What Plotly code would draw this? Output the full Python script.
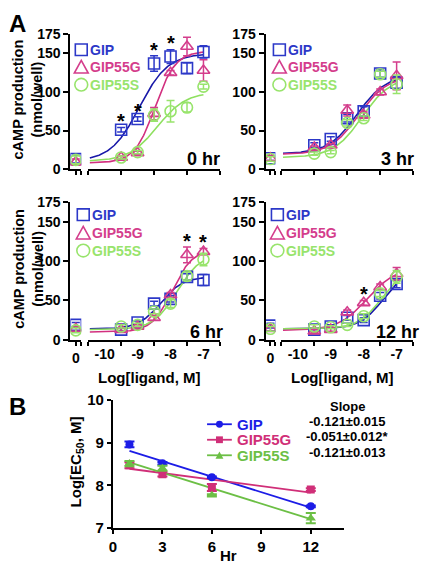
import numpy as np
import plotly.graph_objects as go

W, H = 423, 570
FONT = "Arial, Liberation Sans, sans-serif"

# ---------------- data: panel A (cAMP, nmol/well) ----------------
doses = [-9.5, -9.0, -8.5, -8.0, -7.5, -7.0]          # log[ligand, M]
series_names = ["GIP", "GIP55G", "GIP55S"]
panel_titles = ["0 hr", "3 hr", "6 hr", "12 hr"]
x_tick_vals = [-10, -9, -8, -7]
x_tick_text = ["-10", "-9", "-8", "-7"]
y_tick_vals = [0, 50, 100, 150, 175]

# first value of each list = no-ligand control ("0"), then the six doses
gip_0h = [13, 51, 65, 137, 146, 131, 152]
gip_0h_err = [5, 3, 3, 10, 9, 7, 8]
g55g_0h = [9, 15, 21, 72, 125, 159, 128]
g55g_0h_err = [4, 2, 2, 8, 3, 12, 14]
g55s_0h = [12, 15, 22, 70, 75, 80, 107]
g55s_0h_err = [5, 2, 2, 8, 14, 6, 3]

gip_3h = [14, 31, 39, 66, 75, 124, 112]
gip_3h_err = [3, 3, 3, 5, 6, 5, 8]
g55g_3h = [14, 28, 31, 76, 70, 100, 121]
g55g_3h_err = [3, 2, 2, 7, 4, 4, 18]
g55s_3h = [13, 20, 22, 60, 66, 123, 110]
g55s_3h_err = [3, 2, 2, 4, 3, 4, 12]

gip_6h = [19, 13, 22, 46, 52, 80, 76]
gip_6h_err = [3, 2, 2, 3, 4, 4, 7]
g55g_6h = [14, 13, 17, 28, 57, 108, 112]
g55g_6h_err = [3, 2, 2, 3, 3, 10, 4]
g55s_6h = [12, 17, 19, 36, 46, 81, 102]
g55s_6h_err = [3, 2, 2, 3, 5, 5, 8]

gip_12h = [18, 13, 17, 28, 25, 56, 71]
gip_12h_err = [3, 2, 2, 3, 3, 4, 5]
g55g_12h = [14, 11, 13, 35, 47, 67, 84]
g55g_12h_err = [3, 2, 2, 3, 3, 4, 8]
g55s_12h = [14, 17, 16, 19, 30, 59, 80]
g55s_12h_err = [3, 2, 2, 2, 3, 4, 8]

# sigmoidal fits (bottom, top, logEC50, hill) for panels 0,3,6,12 hr
gip_fit_bottom = [10, 20, 14, 14]
gip_fit_top = [150, 122, 80, 90]
gip_fit_logec50 = [-8.95, -8.2, -8.3, -7.4]
gip_fit_hill = [1.0, 1.0, 1.3, 1.2]
g55g_fit_bottom = [8, 19, 10, 12]
g55g_fit_top = [153, 121, 115, 92]
g55g_fit_logec50 = [-8.47, -8.15, -7.95, -7.9]
g55g_fit_hill = [1.4, 1.0, 1.4, 1.0]
g55s_fit_bottom = [10, 15, 13, 14]
g55s_fit_top = [100, 120, 110, 92]
g55s_fit_logec50 = [-8.4, -8.05, -7.8, -7.45]
g55s_fit_hill = [1.0, 1.0, 1.2, 1.2]

# significance stars: panel index, dose, series above which the star sits
star_panel = [0, 0, 0, 0, 2, 2, 3]
star_dose = [-9.5, -9.0, -8.5, -8.0, -7.5, -7.0, -8.0]
star_series = ["GIP", "GIP", "GIP", "GIP", "GIP55G", "GIP55G", "GIP55G"]

# ---------------- data: panel B (log EC50 vs time) ----------------
hours = [1, 3, 6, 12]
b_x_ticks = [0, 3, 6, 9, 12]
b_y_ticks = [7, 8, 9, 10]
gip_ec50 = [8.96, 8.52, 8.19, 7.51]
gip_ec50_err = [0.07, 0.03, 0.02, 0.02]
g55g_ec50 = [8.47, 8.26, 7.95, 7.90]
g55g_ec50_err = [0.07, 0.05, 0.08, 0.03]
g55s_ec50 = [8.51, 8.40, 7.77, 7.23]
g55s_ec50_err = [0.06, 0.06, 0.02, 0.12]
fit_slope = [-0.121, -0.051, -0.121]
fit_intercept = [8.93, 8.44, 8.66]
slope_text = ["-0.121±0.015", "-0.051±0.012*", "-0.121±0.013"]

# ---------------- styling ----------------
A_MARK = {"GIP": "#2c38c8", "GIP55G": "#d43d8c", "GIP55S": "#98e46c"}
A_LINE = {"GIP": "#1818a8", "GIP55G": "#d2307f", "GIP55S": "#8fe060"}
A_SYM = {"GIP": "square-open", "GIP55G": "triangle-up-open", "GIP55S": "circle-open"}
B_COL = {"GIP": "#1c1ce6", "GIP55G": "#d02f78", "GIP55S": "#6cbf45"}
B_SYM = {"GIP": "circle", "GIP55G": "square", "GIP55S": "triangle-up"}


def fx(p):
    return p / W


def fy(p):
    return 1 - p / H


vals = {
    "GIP": [gip_0h, gip_3h, gip_6h, gip_12h],
    "GIP55G": [g55g_0h, g55g_3h, g55g_6h, g55g_12h],
    "GIP55S": [g55s_0h, g55s_3h, g55s_6h, g55s_12h],
}
errs = {
    "GIP": [gip_0h_err, gip_3h_err, gip_6h_err, gip_12h_err],
    "GIP55G": [g55g_0h_err, g55g_3h_err, g55g_6h_err, g55g_12h_err],
    "GIP55S": [g55s_0h_err, g55s_3h_err, g55s_6h_err, g55s_12h_err],
}
fits = {
    "GIP": (gip_fit_bottom, gip_fit_top, gip_fit_logec50, gip_fit_hill),
    "GIP55G": (g55g_fit_bottom, g55g_fit_top, g55g_fit_logec50, g55g_fit_hill),
    "GIP55S": (g55s_fit_bottom, g55s_fit_top, g55s_fit_logec50, g55s_fit_hill),
}

# pixel geometry of the four A panels
geo = [
    dict(yax=67, ytop=26, ybot=165, z=(67, 78), m=(85, 218), leg=(78, [42, 60, 78]), lab=True, title=(220, 155), xl=False),
    dict(yax=264, ytop=26, ybot=165, z=(264, 274), m=(280, 413), leg=(278, [42, 60, 78]), lab=False, title=(416, 155), xl=False),
    dict(yax=67, ytop=199, ybot=341, z=(67, 78), m=(85, 218), leg=(80, [212, 231, 249]), lab=True, title=(223, 333), xl=True),
    dict(yax=264, ytop=199, ybot=341, z=(264, 274), m=(280, 413), leg=(276, [212, 231, 249]), lab=False, title=(421, 333), xl=True),
]

fig = go.Figure()
layout = dict(
    width=W, height=H, margin=dict(l=0, r=0, t=0, b=0),
    paper_bgcolor="white", plot_bgcolor="white", showlegend=False,
    font=dict(family=FONT, color="black"),
)
annotations = []
shapes = []

axis_common = dict(showgrid=False, zeroline=False, showline=True, linecolor="black",
                   linewidth=2, ticks="outside", tickcolor="black", tickwidth=2,
                   tickfont=dict(family=FONT, size=14, color="black", weight="bold"))

xs_curve = np.linspace(-10.45, -7.0, 200)

for k, g in enumerate(geo):
    zx = f"x{2 * k + 1}" if k > 0 else "x"
    mx = f"x{2 * k + 2}"
    yy = f"y{k + 1}" if k > 0 else "y"
    zkey = "xaxis" if k == 0 else f"xaxis{2 * k + 1}"
    mkey = f"xaxis{2 * k + 2}"
    ykey = "yaxis" if k == 0 else f"yaxis{k + 1}"

    layout[ykey] = dict(axis_common, domain=[fy(g["ybot"]), fy(g["ytop"])], range=[0, 175],
                        tickvals=y_tick_vals, ticklen=5, anchor=zx)
    layout[zkey] = dict(axis_common, domain=[fx(g["z"][0]), fx(g["z"][1])], range=[-1, 1],
                        tickvals=[0], ticktext=["0"], ticklen=4, anchor=yy,
                        showticklabels=g["xl"],
                        minor=dict(tickmode="array", tickvals=[1], ticks="outside", ticklen=4,
                                   tickwidth=2, tickcolor="black"))
    layout[mkey] = dict(axis_common, domain=[fx(g["m"][0]), fx(g["m"][1])], range=[-10.5, -6.5],
                        tickvals=x_tick_vals, ticktext=x_tick_text, ticks="", anchor=yy,
                        showticklabels=g["xl"],
                        minor=dict(tickmode="array", tickvals=[-10.5, -9.5, -8.5, -7.5, -6.5],
                                   ticks="outside", ticklen=4, tickwidth=2, tickcolor="black"))

    for s in series_names:
        b, t, ec, h = (arr[k] for arr in fits[s])
        ys = b + (t - b) / (1 + 10 ** ((ec - xs_curve) * h))
        fig.add_trace(go.Scatter(x=xs_curve, y=ys, mode="lines", xaxis=mx, yaxis=yy,
                                 line=dict(color=A_LINE[s], width=1.6), hoverinfo="skip"))
    for s in series_names:
        v = vals[s][k]
        e = errs[s][k]
        mk = dict(symbol=A_SYM[s], size=11, color=A_MARK[s], line=dict(width=1.6, color=A_MARK[s]))
        eb = dict(type="data", thickness=1.5, width=4, color=A_MARK[s])
        fig.add_trace(go.Scatter(x=[0], y=v[:1], error_y=dict(eb, array=e[:1]), mode="markers",
                                 marker=mk, xaxis=zx, yaxis=yy, name=s))
        fig.add_trace(go.Scatter(x=doses, y=v[1:], error_y=dict(eb, array=e[1:]), mode="markers",
                                 marker=mk, xaxis=mx, yaxis=yy, name=s))

    # in-panel legend (glyph shapes + coloured bold labels)
    lx, lys = g["leg"]
    for s, ly in zip(series_names, lys):
        c = A_MARK[s]
        if s == "GIP":
            shapes.append(dict(type="rect", xref="paper", yref="paper", x0=fx(lx - 6), x1=fx(lx + 6),
                               y0=fy(ly + 6), y1=fy(ly - 6), line=dict(color=c, width=1.6)))
        elif s == "GIP55G":
            path = (f"M {fx(lx - 7)},{fy(ly + 6)} L {fx(lx + 7)},{fy(ly + 6)} "
                    f"L {fx(lx)},{fy(ly - 7)} Z")
            shapes.append(dict(type="path", xref="paper", yref="paper", path=path,
                               line=dict(color=c, width=1.6)))
        else:
            shapes.append(dict(type="circle", xref="paper", yref="paper", x0=fx(lx - 6.5), x1=fx(lx + 6.5),
                               y0=fy(ly + 6.5), y1=fy(ly - 6.5), line=dict(color=c, width=1.6)))
        annotations.append(dict(xref="paper", yref="paper", x=fx(lx + 7), y=fy(ly), xanchor="left",
                                yanchor="middle", showarrow=False, text=f"<b>{s}</b>",
                                font=dict(family=FONT, size=14, color=c)))

    tx, ty = g["title"]
    annotations.append(dict(xref="paper", yref="paper", x=fx(tx), y=fy(ty), xanchor="right",
                            yanchor="middle", showarrow=False, text=f"<b>{panel_titles[k]}</b>",
                            font=dict(family=FONT, size=18, color="black")))
    if g["lab"]:
        annotations.append(dict(xref="paper", yref="paper", x=fx(24), y=fy((g["ytop"] + g["ybot"]) / 2 - 2),
                                xanchor="center", yanchor="middle", textangle=-90, showarrow=False,
                                text="<b>cAMP production<br>(nmol/well)</b>",
                                font=dict(family=FONT, size=14.5, color="black")))
    if g["xl"]:
        annotations.append(dict(xref="paper", yref="paper", x=fx((g["m"][0] + g["m"][1]) / 2 - 5),
                                y=fy(g["ybot"] + 39), xanchor="center", yanchor="middle", showarrow=False,
                                text="<b>Log[ligand, M]</b>", font=dict(family=FONT, size=15, color="black")))

# stars
for p, d, s in zip(star_panel, star_dose, star_series):
    i = doses.index(d) + 1
    yv = vals[s][p][i] + errs[s][p][i] + 8
    annotations.append(dict(xref=f"x{2 * p + 2}", yref=("y" if p == 0 else f"y{p + 1}"), x=d, y=yv,
                            xanchor="center", yanchor="middle", showarrow=False, text="<b>*</b>",
                            font=dict(family=FONT, size=20, color="black")))

# ---------------- panel B ----------------
layout["xaxis9"] = dict(axis_common, domain=[fx(110), fx(343)], range=[0, 14], tickvals=b_x_ticks,
                        ticklen=4, anchor="y5", tickfont=dict(family=FONT, size=15, color="black", weight="bold"))
layout["yaxis5"] = dict(axis_common, domain=[fy(535), fy(403)], range=[7, 10], tickvals=b_y_ticks,
                        ticklen=4, anchor="x9", tickfont=dict(family=FONT, size=15, color="black", weight="bold"))

b_vals = {"GIP": (gip_ec50, gip_ec50_err), "GIP55G": (g55g_ec50, g55g_ec50_err),
          "GIP55S": (g55s_ec50, g55s_ec50_err)}
hx = np.array([hours[0], hours[-1]], dtype=float)
for j, s in enumerate(series_names):
    fig.add_trace(go.Scatter(x=hx, y=fit_intercept[j] + fit_slope[j] * hx, mode="lines",
                             xaxis="x9", yaxis="y5", line=dict(color=B_COL[s], width=1.8)))
for j, s in enumerate(series_names):
    v, e = b_vals[s]
    fig.add_trace(go.Scatter(x=hours, y=v, mode="markers", xaxis="x9", yaxis="y5", name=s,
                             marker=dict(symbol=B_SYM[s], size=8 if s != "GIP55S" else 9, color=B_COL[s]),
                             error_y=dict(type="data", array=e, thickness=2, width=5, color=B_COL[s])))

b_leg_y = [428, 444, 460]
for j, s in enumerate(series_names):
    c = B_COL[s]
    ly = b_leg_y[j]
    shapes.append(dict(type="line", xref="paper", yref="paper", x0=fx(205), x1=fx(230),
                       y0=fy(ly), y1=fy(ly), line=dict(color=c, width=1.8)))
    if s == "GIP":
        shapes.append(dict(type="circle", xref="paper", yref="paper", x0=fx(214), x1=fx(221),
                           y0=fy(ly + 3.5), y1=fy(ly - 3.5), fillcolor=c, line=dict(color=c, width=0)))
    elif s == "GIP55G":
        shapes.append(dict(type="rect", xref="paper", yref="paper", x0=fx(214), x1=fx(221),
                           y0=fy(ly + 3.5), y1=fy(ly - 3.5), fillcolor=c, line=dict(color=c, width=0)))
    else:
        path = f"M {fx(213.5)},{fy(ly + 3.5)} L {fx(221.5)},{fy(ly + 3.5)} L {fx(217.5)},{fy(ly - 4)} Z"
        shapes.append(dict(type="path", xref="paper", yref="paper", path=path, fillcolor=c,
                           line=dict(color=c, width=0)))
    annotations.append(dict(xref="paper", yref="paper", x=fx(233), y=fy(ly), xanchor="left", yanchor="middle",
                            showarrow=False, text=f"<b>{s}</b>", font=dict(family=FONT, size=15, color=c)))

annotations.append(dict(xref="paper", yref="paper", x=fx(347), y=fy(410), xanchor="center", yanchor="middle",
                        showarrow=False, text="<b>Slope</b>", font=dict(family=FONT, size=13, color="black")))
for j, t in enumerate(slope_text):
    annotations.append(dict(xref="paper", yref="paper", x=fx(347), y=fy(425 + 16 * j), xanchor="center",
                            yanchor="middle", showarrow=False, text=f"<b>{t}</b>",
                            font=dict(family=FONT, size=13, color="black")))

annotations.append(dict(xref="paper", yref="paper", x=fx(227), y=fy(563), xanchor="center", yanchor="middle",
                        showarrow=False, text="<b>Hr</b>", font=dict(family=FONT, size=15, color="black")))
annotations.append(dict(xref="paper", yref="paper", x=fx(73), y=fy(467), xanchor="center", yanchor="middle",
                        textangle=-90, showarrow=False, text="<b>Log[EC<sub>50</sub>, M]</b>",
                        font=dict(family=FONT, size=15, color="black")))

# panel letters
annotations.append(dict(xref="paper", yref="paper", x=fx(3), y=fy(15), xanchor="left", yanchor="middle",
                        showarrow=False, text="<b>A</b>", font=dict(family=FONT, size=24, color="black")))
annotations.append(dict(xref="paper", yref="paper", x=fx(3), y=fy(410), xanchor="left", yanchor="middle",
                        showarrow=False, text="<b>B</b>", font=dict(family=FONT, size=24, color="black")))

layout["annotations"] = annotations
layout["shapes"] = shapes
fig.update_layout(**layout)
fig.write_html("out.html", config={"displayModeBar": False},
               post_script="document.body.style.margin='0px';")
